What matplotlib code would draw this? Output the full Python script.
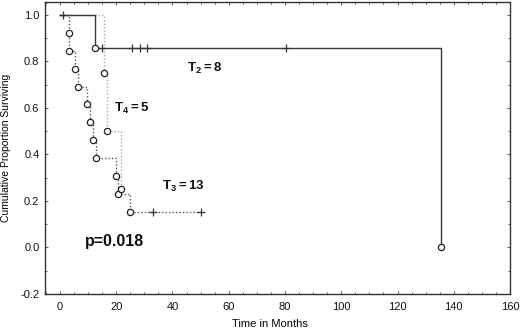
import matplotlib
matplotlib.use("Agg")
import matplotlib.pyplot as plt
from matplotlib.ticker import MultipleLocator

plt.rcParams['font.family'] = ['Liberation Sans', 'DejaVu Sans']
plt.rcParams['mathtext.fontset'] = 'custom'
plt.rcParams['mathtext.rm'] = 'Liberation Sans'
plt.rcParams['mathtext.bf'] = 'Liberation Sans:bold'

# T2 group (solid)
t2_time = [0, 12.5, 135.5]
t2_surv = [1.0, 0.857, 0.0]
t2_end = 135.5
t2_cens_time = [1.0, 15.0, 25.5, 28.3, 31.0, 80.5]
t2_cens_surv = [1.0, 0.857, 0.857, 0.857, 0.857, 0.857]

# T3 group (dark dotted)
t3_time = [0, 3.3, 3.3, 5.4, 6.6, 9.6, 10.6, 11.6, 12.7, 19.8, 20.8, 24.8]
t3_surv = [1.0, 0.923, 0.846, 0.769, 0.692, 0.615, 0.538, 0.462, 0.385, 0.308, 0.231, 0.154]
t3_end = 50.0
t3_cens_time = [33.0, 50.0]
t3_cens_surv = [0.154, 0.154]

# T4 group (light dotted)
t4_time = [0, 15.5, 16.6, 21.8]
t4_surv = [1.0, 0.75, 0.5, 0.25]
t4_end = 21.8

fig = plt.figure(figsize=(5.2, 3.28), dpi=100)
ax = fig.add_axes([0.0865, 0.104, 0.8945, 0.89])

def km(ax, times, surv, end, **kw):
    xs = list(times) + [end]
    ys = list(surv) + [surv[-1]]
    ax.step(xs, ys, where='post', **kw)

km(ax, t4_time, t4_surv, t4_end, color='#a8a8a8', lw=1.0, ls=(0, (1, 1.5)), zorder=2)
km(ax, t3_time, t3_surv, t3_end, color='#555555', lw=1.0, ls=(0, (1, 1.5)), zorder=3)
km(ax, t2_time, t2_surv, t2_end, color='#3a3a3a', lw=1.0, zorder=4)

circ = dict(marker='o', ms=4.5, mfc='white', mec='#222222', mew=0.9, ls='none', zorder=5)
ax.plot(t2_time[1:], t2_surv[1:], **circ)
ax.plot(t3_time[1:], t3_surv[1:], **circ)
ax.plot(t4_time[1:], t4_surv[1:], **circ)

cens = dict(marker='+', ms=6, mec='#333333', mew=0.9, ls='none', zorder=5)
ax.plot(t2_cens_time, t2_cens_surv, **cens)
ax.plot(t3_cens_time, t3_cens_surv, **cens)

ax.text(51.4, 0.772, r'$\mathbf{T_2{=}8}$', fontsize=9.5, ha='center', va='center', color='#111111')
ax.text(25.6, 0.60, r'$\mathbf{T_4{=}5}$', fontsize=9.5, ha='center', va='center', color='#111111')
ax.text(44.0, 0.262, r'$\mathbf{T_3{=}13}$', fontsize=9.5, ha='center', va='center', color='#111111')
ax.text(19.5, 0.026, 'p=0.018', fontsize=11.5, fontweight='bold', ha='center', va='center', color='#111111')

ax.set_xlim(-5.3, 160)
ax.set_ylim(-0.2, 1.056)
ax.xaxis.set_major_locator(MultipleLocator(20))
ax.xaxis.set_minor_locator(MultipleLocator(5))
ax.yaxis.set_minor_locator(MultipleLocator(0.1))
ax.set_yticks([-0.2, 0.0, 0.2, 0.4, 0.6, 0.8, 1.0])
ax.set_yticklabels(['-0.2', '0.0', '0.2', '0.4', '0.6', '0.8', '1.0'])
ax.tick_params(which='both', direction='in', top=True, right=True, colors='#444444',
               labelcolor='#111111', labelsize=8, width=0.6)
ax.tick_params(which='major', length=2.5)
ax.tick_params(axis='y', which='major', pad=4)
ax.tick_params(axis='x', which='major', pad=6)
ax.tick_params(which='minor', length=1.5)
for s in ax.spines.values():
    s.set_color('#333333')
    s.set_linewidth(1.0)

ax.set_xlabel('Time in Months', fontsize=8)
ax.xaxis.set_label_coords(0.484, -0.085)
ax.set_ylabel('Cumulative Proportion Surviving', fontsize=7.5)
ax.yaxis.set_label_coords(-0.072, 0.5)

fig.savefig('out.png', dpi=100)
